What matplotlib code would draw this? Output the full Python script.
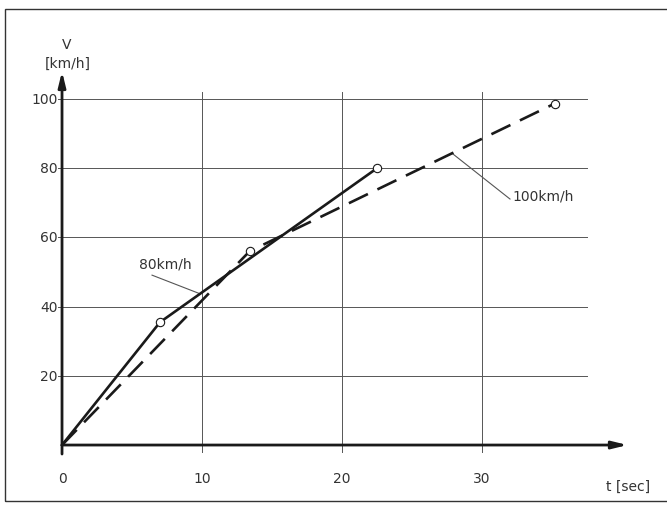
import matplotlib.pyplot as plt
from matplotlib.patches import Rectangle
import numpy as np

# run at 80 km/h (solid) and 100 km/h (dashed)
t_80 = [0, 7.0, 22.5]
v_80 = [0, 35.5, 80.0]
t_100 = [0, 13.4, 35.2]
v_100 = [0, 56.0, 98.7]

x_ticks = [0, 10, 20, 30]
y_ticks = [20, 40, 60, 80, 100]

ink = "#1a1a1a"
grid_col = "#555555"
txt_col = "#333333"

fig = plt.figure(figsize=(6.67, 5.06), dpi=100)
ax = fig.add_axes([0.051, 0.098, 0.9235, 0.759])
ax.set_xlim(-2, 42)
ax.set_ylim(-3, 108)
ax.axis("off")

# grid
for x in x_ticks[1:]:
    ax.plot([x, x], [-2, 102], color=grid_col, lw=0.7, zorder=1)
for y in y_ticks:
    ax.plot([-0.3, 37.5], [y, y], color=grid_col, lw=0.7, zorder=1)

# axes with arrows
arrow = dict(arrowstyle="-|>,head_length=0.9,head_width=0.22", lw=2.0,
             color=ink, mutation_scale=10, shrinkA=0, shrinkB=0)
ax.annotate("", xy=(0, 108), xytext=(0, -2.6), arrowprops=arrow, zorder=3)
ax.annotate("", xy=(40.4, 0), xytext=(0, 0), arrowprops=arrow, zorder=3)

# tick labels
for x in x_ticks:
    ax.text(x, -9.5, str(x), ha="center", va="center", fontsize=10, color=txt_col)
for y in y_ticks:
    ax.text(-0.3, y, str(y), ha="right", va="center", fontsize=10, color=txt_col)

ax.text(0.3, 116, "V", ha="center", va="center", fontsize=10, color=txt_col, clip_on=False)
ax.text(0.4, 110.5, "[km/h]", ha="center", va="center", fontsize=10, color=txt_col, clip_on=False)
ax.text(40.4, -11.7, "t [sec]", ha="center", va="center", fontsize=10, color=txt_col)

# curves
ax.plot(t_80, v_80, color=ink, lw=1.9, zorder=4)
ax.plot(t_80[1:], v_80[1:], ls="none", marker="o", ms=6, mfc="white",
        mec=ink, mew=0.8, zorder=5)
ax.plot(t_100, v_100, color=ink, lw=1.9, dashes=(8, 4), zorder=4)
ax.plot(t_100[1:], v_100[1:], ls="none", marker="o", ms=6, mfc="white",
        mec=ink, mew=0.8, zorder=5)

# labels with leader lines
x80 = 9.86
ax.plot([6.43, x80], [49.1, np.interp(x80, t_80, v_80)], color=grid_col, lw=0.8, zorder=2)
ax.text(7.4, 52.6, "80km/h", ha="center", va="center", fontsize=10, color=txt_col)

x100 = 27.86
ax.plot([x100, 32.0], [np.interp(x100, t_100, v_100), 71.1], color=grid_col, lw=0.8, zorder=2)
ax.text(32.2, 72.0, "100km/h", ha="left", va="center", fontsize=10, color=txt_col)

# scanned page frame
fig.patches.append(Rectangle((5 / 667, 4 / 506), 1.0, 492 / 506, transform=fig.transFigure,
                             fill=False, ec="#333333", lw=1.0))

fig.savefig("out.png", dpi=100)
